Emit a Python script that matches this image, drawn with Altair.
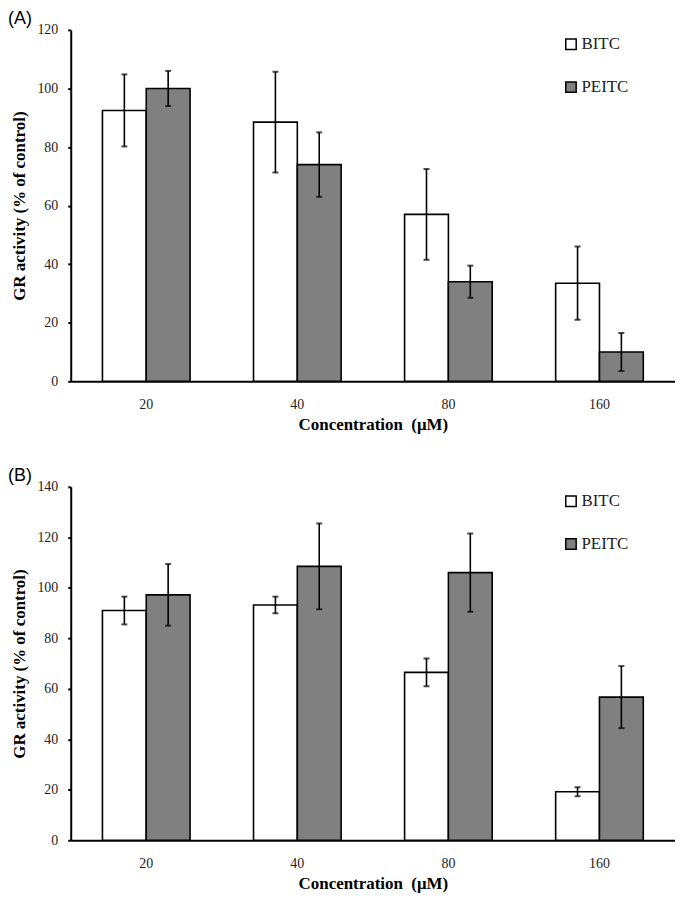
import altair as alt
import pandas as pd

concentrations = ["20", "40", "80", "160"]
compounds = ["BITC", "PEITC"]

# Panel A
a_bitc_mean = [92.5, 88.5, 57.0, 33.5]
a_bitc_err = [12.3, 17.2, 15.5, 12.5]
a_peitc_mean = [100.0, 74.0, 34.0, 10.0]
a_peitc_err = [6.0, 11.0, 5.5, 6.5]

# Panel B
b_bitc_mean = [91.0, 93.2, 66.5, 19.2]
b_bitc_err = [5.5, 3.3, 5.5, 1.8]
b_peitc_mean = [97.2, 108.5, 106.0, 56.7]
b_peitc_err = [12.2, 17.0, 15.5, 12.3]


def make_df(bitc_m, bitc_e, peitc_m, peitc_e):
    rows = []
    for i, c in enumerate(concentrations):
        for comp, m, e in (("BITC", bitc_m[i], bitc_e[i]), ("PEITC", peitc_m[i], peitc_e[i])):
            rows.append({"conc": c, "compound": comp, "mean": m, "lo": m - e, "hi": m + e})
    return pd.DataFrame(rows)


SERIF = "Liberation Serif"


def panel(df, ymax, label, height):
    x = alt.X("conc:N", sort=concentrations,
              scale=alt.Scale(paddingInner=0.42, paddingOuter=0.21),
              axis=alt.Axis(title="Concentration\u00a0\u00a0(\u03bcM)", labelAngle=0, ticks=False,
                            domainColor="black", domainWidth=2, labelFont=SERIF,
                            labelFontSize=14, labelColor="#222", labelPadding=16,
                            titleFont=SERIF, titleFontSize=17, titleFontWeight="bold",
                            titleColor="black", titlePadding=5))
    xo = alt.XOffset("compound:N", sort=compounds, scale=alt.Scale(paddingInner=0, paddingOuter=0))
    yscale = alt.Scale(domain=[0, ymax], nice=False)
    y = alt.Y("mean:Q", scale=yscale,
              axis=alt.Axis(title="GR activity (% of control)", values=list(range(0, ymax + 1, 20)),
                            grid=False, domainColor="black", domainWidth=2, tickColor="black",
                            tickSize=3, tickWidth=2, labelFont=SERIF, labelFontSize=14,
                            labelColor="#222", labelPadding=10, titleFont=SERIF,
                            titleFontSize=17, titleFontWeight="bold", titleColor="black",
                            titlePadding=8))
    fill = alt.Fill("compound:N", sort=compounds,
                    scale=alt.Scale(domain=compounds, range=["white", "#808080"]),
                    legend=alt.Legend(title=None, orient="none", legendX=494, legendY=6,
                                      symbolType="square", symbolSize=110,
                                      symbolStrokeColor="black", symbolStrokeWidth=1.5,
                                      labelFont=SERIF, labelFontSize=17, labelColor="#222",
                                      rowPadding=25, padding=0, labelOffset=2))
    bars = alt.Chart(df).mark_bar(stroke="black", strokeWidth=1.6).encode(x=x, xOffset=xo, y=y, fill=fill)
    rules = alt.Chart(df).mark_rule(color="black", strokeWidth=1.6).encode(
        x=alt.X("conc:N", sort=concentrations), xOffset=xo,
        y=alt.Y("lo:Q", scale=yscale), y2="hi:Q")
    caps_lo = alt.Chart(df).mark_tick(color="black", thickness=2, size=6, orient="horizontal").encode(
        x=alt.X("conc:N", sort=concentrations), xOffset=xo, y=alt.Y("lo:Q", scale=yscale))
    caps_hi = alt.Chart(df).mark_tick(color="black", thickness=2, size=6, orient="horizontal").encode(
        x=alt.X("conc:N", sort=concentrations), xOffset=xo, y=alt.Y("hi:Q", scale=yscale))
    return alt.layer(bars, rules, caps_lo, caps_hi).properties(
        width=607, height=height,
        title=alt.TitleParams(label, anchor="start", frame="group", dx=-63, offset=-5,
                              font="Liberation Sans", fontSize=18, fontWeight="normal",
                              color="black"))


df_a = make_df(a_bitc_mean, a_bitc_err, a_peitc_mean, a_peitc_err)
df_b = make_df(b_bitc_mean, b_bitc_err, b_peitc_mean, b_peitc_err)

chart = alt.vconcat(
    panel(df_a, 120, "(A)", 353),
    panel(df_b, 140, "(B)", 355),
    spacing=35,
).resolve_scale(fill="independent", y="independent").resolve_legend(fill="independent").configure_view(
    stroke=None
).properties(padding=0, background="white")

chart.save("out.html", embed_options={"renderer": "svg", "actions": False})
